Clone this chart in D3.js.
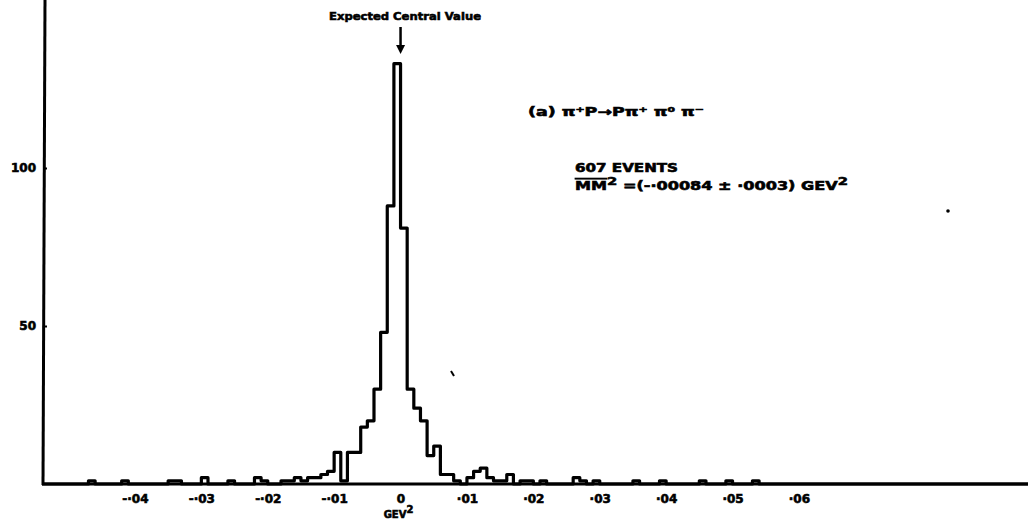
<!DOCTYPE html>
<html>
<head>
<meta charset="utf-8">
<script src="https://cdn.jsdelivr.net/npm/d3@7"></script>
<style>
  html, body { margin: 0; padding: 0; background: #fff; }
  svg { display: block; }
  text { font-family: "DejaVu Sans", "Liberation Sans", sans-serif; font-weight: bold; fill: #000; stroke: #000; stroke-width: 0.6px; }
</style>
</head>
<body>
<svg id="chart" width="1028" height="526"></svg>
<script>
// Missing-mass-squared histogram, bins of 0.001 GeV^2 (lower edges of non-empty bins)
const binLow = [
  -0.047, -0.042, -0.035, -0.034, -0.030, -0.026, -0.022, -0.021,
  -0.018, -0.017, -0.016, -0.015, -0.014, -0.013, -0.012, -0.011,
  -0.010, -0.009, -0.008, -0.007, -0.006, -0.005, -0.004, -0.003,
  -0.002, -0.001, 0.000, 0.001, 0.002, 0.003, 0.004, 0.005,
  0.006, 0.007, 0.008, 0.010, 0.011, 0.012, 0.013, 0.014,
  0.015, 0.016, 0.018, 0.019, 0.021, 0.026, 0.027, 0.029,
  0.035, 0.039, 0.045, 0.049, 0.053
];
const counts = [
  1, 1, 1, 1, 2, 1, 2, 1,
  1, 1, 2, 1, 2, 2, 3, 4,
  10, 1, 10, 10, 18, 20, 30, 48,
  88, 133, 81, 30, 24, 20, 9, 12,
  3, 3, 1, 2, 4, 5, 2, 1,
  1, 3, 1, 1, 1, 2, 1, 1,
  1, 1, 1, 1, 1
];
const binWidth = 0.001;

const xTicks = [-0.04, -0.03, -0.02, -0.01, 0, 0.01, 0.02, 0.03, 0.04, 0.05, 0.06];
const yTicks = [50, 100];
const expectedValue = 0;

const svg = d3.select("#chart");
const x = d3.scaleLinear().domain([-0.054, 0.0945]).range([42, 1028]);
const y = d3.scaleLinear().domain([0, 100]).range([484, 168]);
const y0 = y(0);

// axes frame: vertical axis runs to the top edge, horizontal to the right edge
svg.append("line")
  .attr("x1", x.range()[0] + 1).attr("y1", y0 + 1)
  .attr("x2", x.range()[0] + 3).attr("y2", 0)
  .attr("stroke", "#000").attr("stroke-width", 3);
svg.append("line")
  .attr("x1", x.range()[0]).attr("y1", y0)
  .attr("x2", 1028).attr("y2", y0)
  .attr("stroke", "#000").attr("stroke-width", 3);

// step outline of the histogram
const same = (a, b) => Math.abs(a - b) < 1e-9;
const pts = [[x.domain()[0], 0]];
binLow.forEach((lo, i) => {
  const hi = lo + binWidth;
  const prevHi = i > 0 ? binLow[i - 1] + binWidth : null;
  if (prevHi === null || !same(prevHi, lo)) pts.push([lo, 0]);
  pts.push([lo, counts[i]], [hi, counts[i]]);
  const nextLo = i < binLow.length - 1 ? binLow[i + 1] : null;
  if (nextLo === null || !same(nextLo, hi)) pts.push([hi, 0]);
});
pts.push([x.domain()[1], 0]);

svg.append("path")
  .datum(pts)
  .attr("d", d3.line().x(d => x(d[0])).y(d => y(d[1])))
  .attr("fill", "none")
  .attr("stroke", "#000")
  .attr("stroke-width", 3.2)
  .attr("stroke-linejoin", "round");

// x axis labels
const fmtX = d => d === 0 ? "0" : (d < 0 ? "-" : "") + "·" + d3.format("02d")(Math.round(Math.abs(d) * 100));
const xAxis = svg.append("g")
  .attr("transform", `translate(0,${y0 + 10})`)
  .call(d3.axisBottom(x).tickValues(xTicks).tickFormat(fmtX).tickSize(0).tickPadding(0));
xAxis.select(".domain").remove();
xAxis.selectAll("text")
  .style("font-family", "'DejaVu Sans', sans-serif")
  .style("font-weight", "bold")
  .style("font-size", "12px");

// axis unit under the zero label
const unit = svg.append("text")
  .attr("x", x(0) - 2).attr("y", 518)
  .attr("text-anchor", "middle")
  .style("font-size", "10px");
unit.append("tspan").text("GEV");
unit.append("tspan").attr("dy", -5).style("font-size", "10px").text("2");

// y axis labels and small inward ticks
const yAxis = svg.append("g")
  .attr("transform", `translate(${x.range()[0] + 2},0)`)
  .call(d3.axisLeft(y).tickValues(yTicks).tickSizeInner(-3).tickSizeOuter(0).tickPadding(8));
yAxis.select(".domain").remove();
yAxis.selectAll(".tick line").attr("stroke", "#000").attr("stroke-width", 2);
yAxis.selectAll("text")
  .style("font-family", "'DejaVu Sans', sans-serif")
  .style("font-weight", "bold")
  .style("font-size", "12px");

// expected central value marker
svg.append("text")
  .attr("x", 405).attr("y", 20)
  .attr("text-anchor", "middle")
  .attr("textLength", 152).attr("lengthAdjust", "spacingAndGlyphs")
  .style("font-size", "11px")
  .text("Expected Central Value");
svg.append("line")
  .attr("x1", x(expectedValue)).attr("y1", 27)
  .attr("x2", x(expectedValue)).attr("y2", 47)
  .attr("stroke", "#000").attr("stroke-width", 2.5);
svg.append("path")
  .attr("d", d3.line()([[x(expectedValue) - 4.5, 45], [x(expectedValue) + 4.5, 45], [x(expectedValue), 54]]))
  .attr("fill", "#000");

// reaction and fit result
svg.append("text")
  .attr("x", 528).attr("y", 116)
  .attr("textLength", 176).attr("lengthAdjust", "spacingAndGlyphs")
  .style("font-size", "12px")
  .text("(a)  π⁺P→Pπ⁺ π⁰ π⁻");

svg.append("text")
  .attr("x", 575).attr("y", 172)
  .attr("textLength", 103).attr("lengthAdjust", "spacingAndGlyphs")
  .style("font-size", "12px")
  .text("607  EVENTS");

const mm = svg.append("text")
  .attr("x", 575).attr("y", 190)
  .attr("textLength", 273).attr("lengthAdjust", "spacingAndGlyphs")
  .style("font-size", "12px");
mm.append("tspan").style("text-decoration", "overline").text("MM");
mm.append("tspan").attr("dy", -5).style("font-size", "11px").text("2");
mm.append("tspan").attr("dy", 5).text(" =(-·00084 ± ·0003)  GEV");
mm.append("tspan").attr("dy", -5).style("font-size", "11px").text("2");

// stray ink marks
svg.append("path").attr("d", "M451,371 L454,376").attr("stroke", "#000").attr("stroke-width", 2);
svg.append("circle").attr("cx", 948).attr("cy", 211).attr("r", 1.8).attr("fill", "#000");
</script>
</body>
</html>
